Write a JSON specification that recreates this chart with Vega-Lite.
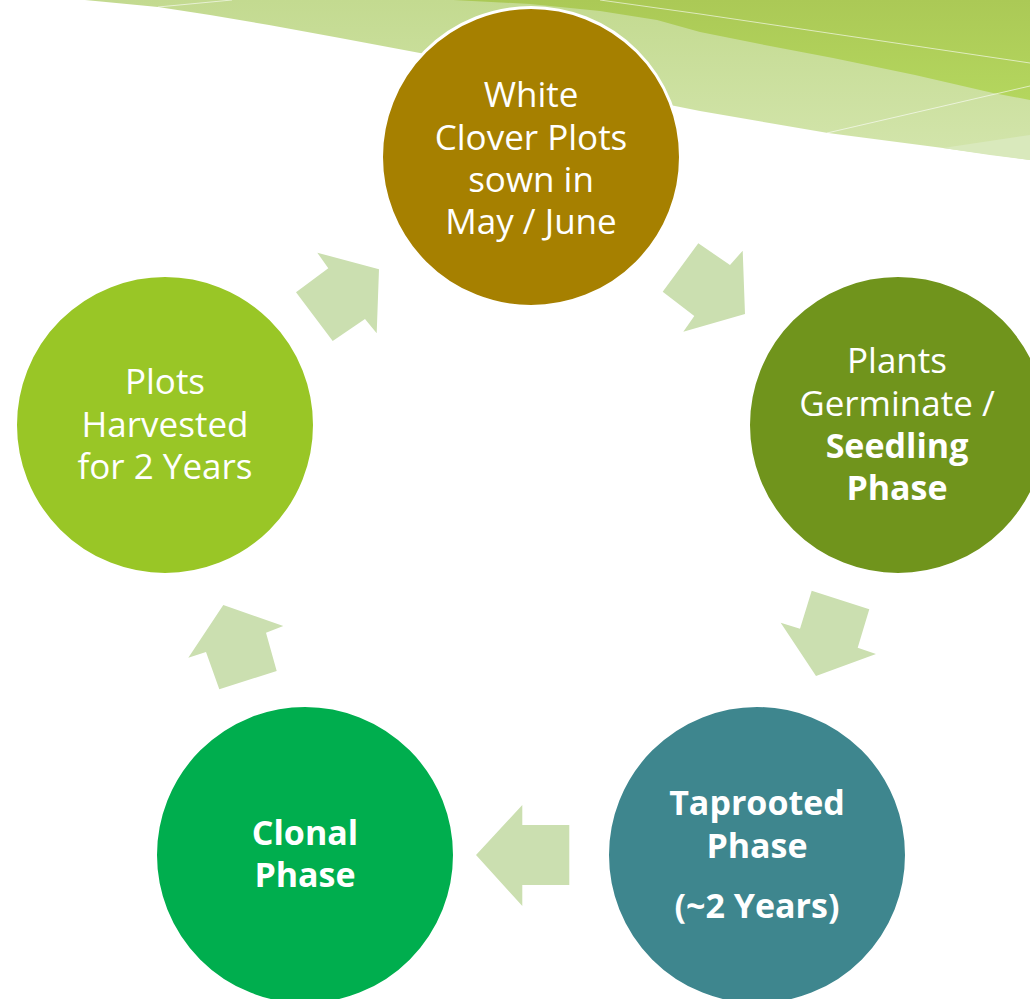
{
  "$schema": "https://vega.github.io/schema/vega-lite/v6.json",
  "width": 1030,
  "height": 999,
  "padding": 0,
  "autosize": {"type": "none"},
  "background": "white",
  "config": {"view": {"stroke": null}},
  "datasets": {
    "bg": [
      {"band": "light", "i": 0, "x": 85, "y": 0},
      {"band": "light", "i": 1, "x": 1030, "y": 0},
      {"band": "light", "i": 2, "x": 1030, "y": 160},
      {"band": "light", "i": 3, "x": 943, "y": 148},
      {"band": "light", "i": 4, "x": 828, "y": 133},
      {"band": "light", "i": 5, "x": 700, "y": 111},
      {"band": "light", "i": 6, "x": 600, "y": 91},
      {"band": "light", "i": 7, "x": 510, "y": 72},
      {"band": "light", "i": 8, "x": 420, "y": 53},
      {"band": "light", "i": 9, "x": 340, "y": 38},
      {"band": "light", "i": 10, "x": 269, "y": 25},
      {"band": "light", "i": 11, "x": 210, "y": 15},
      {"band": "light", "i": 12, "x": 158, "y": 7},
      {"band": "dark", "i": 0, "x": 453, "y": 0},
      {"band": "dark", "i": 1, "x": 1030, "y": 0},
      {"band": "dark", "i": 2, "x": 1030, "y": 100},
      {"band": "dark", "i": 3, "x": 993, "y": 93},
      {"band": "dark", "i": 4, "x": 915, "y": 75},
      {"band": "dark", "i": 5, "x": 833, "y": 58},
      {"band": "dark", "i": 6, "x": 760, "y": 44},
      {"band": "dark", "i": 7, "x": 700, "y": 32},
      {"band": "dark", "i": 8, "x": 657, "y": 20},
      {"band": "dark", "i": 9, "x": 600, "y": 11},
      {"band": "dark", "i": 10, "x": 530, "y": 4},
      {"band": "pale", "i": 0, "x": 943, "y": 148},
      {"band": "pale", "i": 1, "x": 1030, "y": 135},
      {"band": "pale", "i": 2, "x": 1030, "y": 160},
      {"band": "pale", "i": 3, "x": 990, "y": 155}
    ],
    "wl": [
      {"line": "a", "i": 0, "x": 158, "y": 7},
      {"line": "a", "i": 1, "x": 232, "y": 0},
      {"line": "b", "i": 0, "x": 600, "y": 0},
      {"line": "b", "i": 1, "x": 700, "y": 14},
      {"line": "b", "i": 2, "x": 1030, "y": 63},
      {"line": "c", "i": 0, "x": 827, "y": 133},
      {"line": "c", "i": 1, "x": 1030, "y": 86}
    ],
    "circles": [
      {"stage": "sow", "x": 531, "y": 157},
      {"stage": "germ", "x": 898, "y": 425},
      {"stage": "tap", "x": 757, "y": 855},
      {"stage": "clonal", "x": 305, "y": 855},
      {"stage": "harvest", "x": 165, "y": 425}
    ],
    "arrows": [
      {"arrow": 1, "i": 0, "x": 662.7, "y": 291.7},
      {"arrow": 1, "i": 1, "x": 698.3, "y": 243.3},
      {"arrow": 1, "i": 2, "x": 730, "y": 265},
      {"arrow": 1, "i": 3, "x": 742.7, "y": 250.7},
      {"arrow": 1, "i": 4, "x": 745, "y": 314},
      {"arrow": 1, "i": 5, "x": 683.3, "y": 331.7},
      {"arrow": 1, "i": 6, "x": 694.3, "y": 316},
      {"arrow": 2, "i": 0, "x": 811.7, "y": 590.7},
      {"arrow": 2, "i": 1, "x": 869.3, "y": 609.3},
      {"arrow": 2, "i": 2, "x": 857.7, "y": 647.7},
      {"arrow": 2, "i": 3, "x": 876, "y": 654},
      {"arrow": 2, "i": 4, "x": 816, "y": 676},
      {"arrow": 2, "i": 5, "x": 780.7, "y": 622.7},
      {"arrow": 2, "i": 6, "x": 800, "y": 628.7},
      {"arrow": 3, "i": 0, "x": 569.3, "y": 825},
      {"arrow": 3, "i": 1, "x": 569.3, "y": 885},
      {"arrow": 3, "i": 2, "x": 522.3, "y": 885},
      {"arrow": 3, "i": 3, "x": 522.3, "y": 906},
      {"arrow": 3, "i": 4, "x": 476, "y": 855},
      {"arrow": 3, "i": 5, "x": 522.3, "y": 805},
      {"arrow": 3, "i": 6, "x": 522.3, "y": 825},
      {"arrow": 4, "i": 0, "x": 219.3, "y": 689.3},
      {"arrow": 4, "i": 1, "x": 276.7, "y": 671},
      {"arrow": 4, "i": 2, "x": 266, "y": 632.7},
      {"arrow": 4, "i": 3, "x": 283.3, "y": 626},
      {"arrow": 4, "i": 4, "x": 223.3, "y": 605},
      {"arrow": 4, "i": 5, "x": 188.3, "y": 657.7},
      {"arrow": 4, "i": 6, "x": 206, "y": 652},
      {"arrow": 5, "i": 0, "x": 296, "y": 292.3},
      {"arrow": 5, "i": 1, "x": 332.7, "y": 341},
      {"arrow": 5, "i": 2, "x": 365, "y": 319},
      {"arrow": 5, "i": 3, "x": 376.7, "y": 333.3},
      {"arrow": 5, "i": 4, "x": 379, "y": 269.3},
      {"arrow": 5, "i": 5, "x": 317.3, "y": 252.7},
      {"arrow": 5, "i": 6, "x": 328.3, "y": 268.3}
    ],
    "labels": [
      {"text": "White", "x": 531, "y": 94, "bold": false},
      {"text": "Clover Plots", "x": 531, "y": 137, "bold": false},
      {"text": "sown in", "x": 531, "y": 179, "bold": false},
      {"text": "May / June", "x": 531, "y": 221, "bold": false},
      {"text": "Plants", "x": 897, "y": 360, "bold": false},
      {"text": "Germinate /", "x": 897, "y": 403, "bold": false},
      {"text": "Seedling", "x": 897, "y": 446, "bold": true},
      {"text": "Phase", "x": 897, "y": 488, "bold": true},
      {"text": "Taprooted", "x": 757, "y": 803, "bold": true},
      {"text": "Phase", "x": 757, "y": 846, "bold": true},
      {"text": "(~2 Years)", "x": 757, "y": 906, "bold": true},
      {"text": "Clonal", "x": 305, "y": 833, "bold": true},
      {"text": "Phase", "x": 305, "y": 875, "bold": true},
      {"text": "Plots", "x": 165, "y": 381, "bold": false},
      {"text": "Harvested", "x": 165, "y": 424, "bold": false},
      {"text": "for 2 Years", "x": 165, "y": 466, "bold": false}
    ]
  },
  "encoding": {
    "x": {"field": "x", "type": "quantitative", "scale": {"domain": [0, 1030], "nice": false, "zero": false}, "axis": null},
    "y": {"field": "y", "type": "quantitative", "scale": {"domain": [0, 999], "reverse": true, "nice": false, "zero": false}, "axis": null}
  },
  "layer": [
    {
      "data": {"name": "bg"},
      "transform": [{"filter": "datum.band === 'light'"}],
      "mark": {"type": "line", "interpolate": "linear-closed", "strokeWidth": 0, "fill": {"gradient": "linear", "x1": 0, "y1": 0, "x2": 0, "y2": 1, "stops": [{"offset": 0, "color": "#c3da90"}, {"offset": 1, "color": "#d3e5ac"}]}},
      "encoding": {"order": {"field": "i", "type": "quantitative"}}
    },
    {
      "data": {"name": "bg"},
      "transform": [{"filter": "datum.band === 'dark'"}],
      "mark": {"type": "line", "interpolate": "linear-closed", "strokeWidth": 0, "fill": {"gradient": "linear", "x1": 0, "y1": 0, "x2": 0, "y2": 1, "stops": [{"offset": 0, "color": "#abc956"}, {"offset": 1, "color": "#b4d65e"}]}},
      "encoding": {"order": {"field": "i", "type": "quantitative"}}
    },
    {
      "data": {"name": "bg"},
      "transform": [{"filter": "datum.band === 'pale'"}],
      "mark": {"type": "line", "interpolate": "linear-closed", "strokeWidth": 0, "fill": "#d9e9bc"},
      "encoding": {"order": {"field": "i", "type": "quantitative"}}
    },
    {
      "data": {"name": "wl"},
      "mark": {"type": "line", "color": "#ffffff", "strokeWidth": 1, "opacity": 0.6},
      "encoding": {"detail": {"field": "line"}, "order": {"field": "i", "type": "quantitative"}}
    },
    {
      "data": {"name": "circles"},
      "mark": {"type": "point", "shape": "circle", "filled": true, "size": 89400, "stroke": "#ffffff", "strokeWidth": 3, "opacity": 1},
      "encoding": {
        "color": {"field": "stage", "type": "nominal", "legend": null, "scale": {"domain": ["sow", "germ", "tap", "clonal", "harvest"], "range": ["#a68000", "#70941c", "#3e868e", "#00ae4e", "#99c626"]}}
      }
    },
    {
      "data": {"name": "arrows"},
      "mark": {"type": "line", "interpolate": "linear-closed", "strokeWidth": 0, "fill": "#cbdfb0"},
      "encoding": {"detail": {"field": "arrow"}, "order": {"field": "i", "type": "quantitative"}}
    },
    {
      "data": {"name": "labels"},
      "transform": [{"filter": "!datum.bold"}],
      "mark": {"type": "text", "font": "Open Sans", "fontSize": 35, "color": "#ffffff", "align": "center", "baseline": "middle", "dy": 2},
      "encoding": {"text": {"field": "text"}}
    },
    {
      "data": {"name": "labels"},
      "transform": [{"filter": "datum.bold"}],
      "mark": {"type": "text", "font": "Open Sans", "fontSize": 34, "fontWeight": "bold", "color": "#ffffff", "align": "center", "baseline": "middle", "dy": 2},
      "encoding": {"text": {"field": "text"}}
    }
  ]
}
